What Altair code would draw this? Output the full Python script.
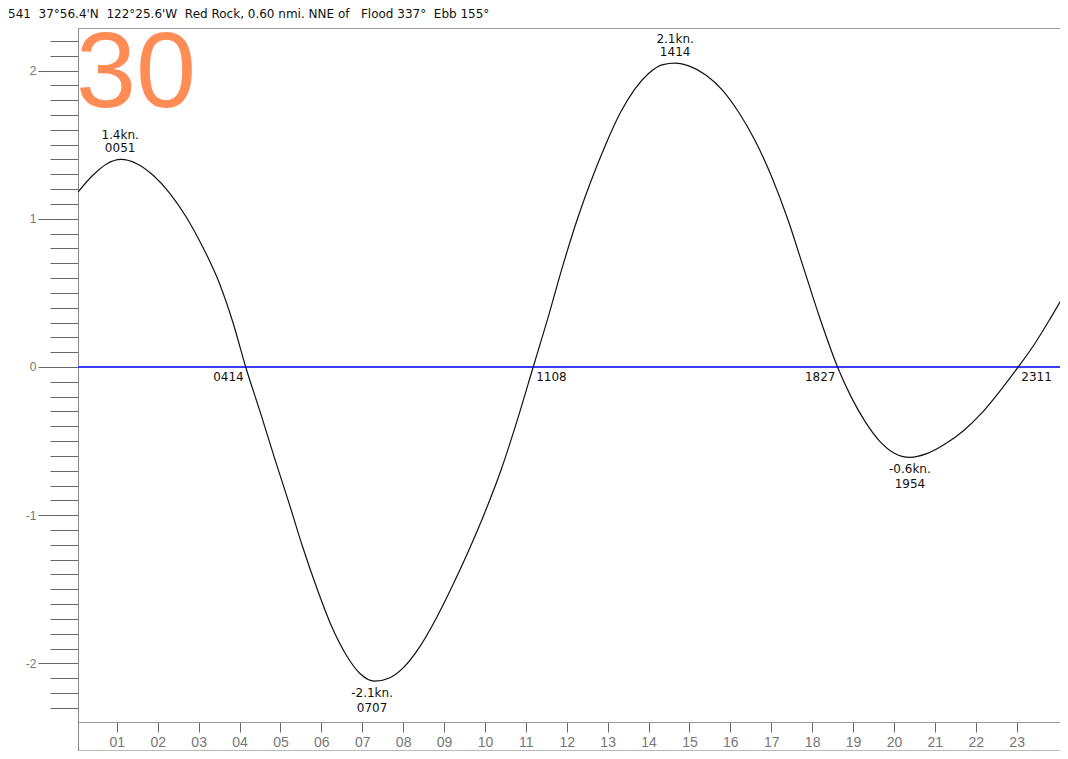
import altair as alt
import pandas as pd

# ---- data ----
hours = [0.05, 0.40, 0.75, 1.10, 1.50, 1.90, 2.30, 2.70, 3.10, 3.50, 3.85, 4.15,
         4.50, 4.85, 5.20, 5.55, 5.90, 6.25, 6.60, 6.95, 7.30, 7.65, 8.00, 8.40,
         8.80, 9.20, 9.60, 10.00, 10.40, 10.80, 11.18,
         11.55, 11.90, 12.25, 12.60, 12.95, 13.30, 13.65, 14.00, 14.35, 14.65,
         15.00, 15.40, 15.80, 16.20, 16.60, 17.00, 17.40, 17.80, 18.20, 18.62,
         18.95, 19.30, 19.65, 20.00, 20.39, 20.80, 21.25, 21.70, 22.15, 22.60,
         23.04, 23.45, 23.85, 24.23]
speeds = [1.18, 1.29, 1.37, 1.40, 1.37, 1.29, 1.17, 1.01, 0.81, 0.57, 0.29, 0.00,
          -0.30, -0.61, -0.91, -1.22, -1.50, -1.75, -1.94, -2.07, -2.12, -2.10, -2.03, -1.89,
          -1.70, -1.48, -1.24, -0.98, -0.69, -0.35, 0.00,
          0.34, 0.68, 0.99, 1.26, 1.50, 1.71, 1.87, 1.98, 2.04, 2.05,
          2.03, 1.97, 1.87, 1.72, 1.53, 1.29, 1.00, 0.66, 0.32, 0.00,
          -0.20, -0.37, -0.50, -0.58, -0.61, -0.585, -0.52, -0.43, -0.31, -0.16,
          0.00, 0.16, 0.34, 0.52]

ext_hours = [1.08, 7.24, 14.65, 20.39]
ext_curve = [1.40, -2.12, 2.05, -0.61]
ext_speed_text = ["1.4kn.", "-2.1kn.", "2.1kn.", "-0.6kn."]
ext_time_text = ["0051", "0707", "1414", "1954"]

slack_hours = [4.15, 11.18, 18.62, 23.04]
slack_text = ["0414", "1108", "1827", "2311"]
slack_kind = ["falling", "rising", "falling", "rising"]

hour_ticks = list(range(1, 24))
major_y = [-2, -1, 0, 1, 2]
minor_y = [round(-2.3 + 0.1 * i, 1) for i in range(46)]

title_text = ("541\u00a0\u00a037°56.4'N\u00a0\u00a0122°25.6'W\u00a0\u00a0Red Rock, 0.60 nmi. NNE of"
              "\u00a0\u00a0\u00a0Flood 337°\u00a0\u00a0Ebb 155°")
day_label = "30"

X_DOM = [0.05, 24.06]
Y_DOM = [-2.591, 2.287]

xs = alt.Scale(domain=X_DOM, nice=False, zero=False)
ys = alt.Scale(domain=Y_DOM, nice=False, zero=False)

curve_df = pd.DataFrame({"hour": hours, "speed": speeds})
ext_df = pd.DataFrame({"hour": ext_hours, "speed": ext_curve,
                       "kn": ext_speed_text, "tm": ext_time_text})
slack_df = pd.DataFrame({"hour": slack_hours, "speed": [0.0] * 4,
                         "tm": slack_text, "kind": slack_kind})

GRAY = "#666"

x_axis = alt.Axis(values=hour_ticks, orient="bottom", offset=-29,
                  labelExpr="(datum.value < 10 ? '0' : '') + datum.value",
                  tickSize=10, tickColor=GRAY, domainColor="#999",
                  labelFontSize=14, labelColor="#777", labelFont="Liberation Sans",
                  labelPadding=3, grid=False, title=None)
top_frame = alt.Axis(orient="top", ticks=False, labels=False, domain=True,
                     domainColor="#999", grid=False, title=None)
bottom_frame = alt.Axis(orient="bottom", ticks=False, labels=False, domain=True,
                        domainColor="#777", domainWidth=2, grid=False, title=None)

major_axis = alt.Axis(values=major_y, orient="left", tickSize=40, tickColor=GRAY,
                      domain=True, domainColor="#888",
                      labelExpr="datum.value < 0 ? '-' + abs(datum.value) : '' + datum.value",
                      labelFontSize=12, labelColor="#777", labelFont="Liberation Sans",
                      labelPadding=2, grid=False, title=None)
minor_axis = alt.Axis(values=minor_y, orient="left", tickSize=28, tickColor=GRAY,
                      labels=False, domain=False, grid=False, title=None)

zero_rule = alt.Chart(pd.DataFrame({"speed": [0.0]})).mark_rule(
    color="#3b3bff", strokeWidth=2
).encode(y=alt.Y("speed:Q", scale=ys, axis=minor_axis))

curve = alt.Chart(curve_df).mark_line(
    color="#111", strokeWidth=1.2, interpolate="monotone"
).encode(
    x=alt.X("hour:Q", scale=xs, axis=x_axis),
    y=alt.Y("speed:Q", scale=ys, axis=major_axis),
)

txt = dict(font="DejaVu Sans", fontSize=12, color="#111")

def enc(base, xaxis=None):
    return base.encode(
        x=alt.X("hour:Q", scale=xs, axis=xaxis),
        y=alt.Y("speed:Q", scale=ys, axis=None),
    )

ext_base = alt.Chart(ext_df)
peak_kn = enc(ext_base.transform_filter("datum.speed > 0").mark_text(
    align="center", baseline="bottom", dy=-17, **txt), top_frame).encode(text="kn:N")
peak_tm = enc(ext_base.transform_filter("datum.speed > 0").mark_text(
    align="center", baseline="bottom", dy=-4, **txt), bottom_frame).encode(text="tm:N")
trough_kn = enc(ext_base.transform_filter("datum.speed < 0").mark_text(
    align="center", baseline="top", dy=7, **txt)).encode(text="kn:N")
trough_tm = enc(ext_base.transform_filter("datum.speed < 0").mark_text(
    align="center", baseline="top", dy=22, **txt)).encode(text="tm:N")

slack_base = alt.Chart(slack_df)
slack_fall = enc(slack_base.transform_filter("datum.kind == 'falling'").mark_text(
    align="right", baseline="top", dx=-2, dy=5, **txt)).encode(text="tm:N")
slack_rise = enc(slack_base.transform_filter("datum.kind == 'rising'").mark_text(
    align="left", baseline="top", dx=3, dy=5, **txt)).encode(text="tm:N")

day = alt.Chart(pd.DataFrame({"t": [day_label]})).mark_text(
    font="Liberation Sans", fontSize=108, color="#ff8c55",
    align="left", baseline="alphabetic"
).encode(text="t:N", x=alt.value(-2), y=alt.value(79))

title = alt.Chart(pd.DataFrame({"t": [title_text]})).mark_text(
    font="DejaVu Sans", fontSize=12, color="#111",
    align="left", baseline="alphabetic"
).encode(text="t:N", x=alt.value(-70), y=alt.value(-10))

chart = alt.layer(
    zero_rule, curve, peak_kn, peak_tm, trough_kn, trough_tm, slack_fall, slack_rise, day, title
).resolve_axis(y="independent", x="independent").properties(
    width=982, height=723,
    autosize=alt.AutoSizeParams(type="none"),
    padding={"left": 70, "top": 20, "right": 0, "bottom": 0},
).configure_view(stroke=None)

chart.save("out.html", embed_options={"renderer": "svg", "actions": False})
